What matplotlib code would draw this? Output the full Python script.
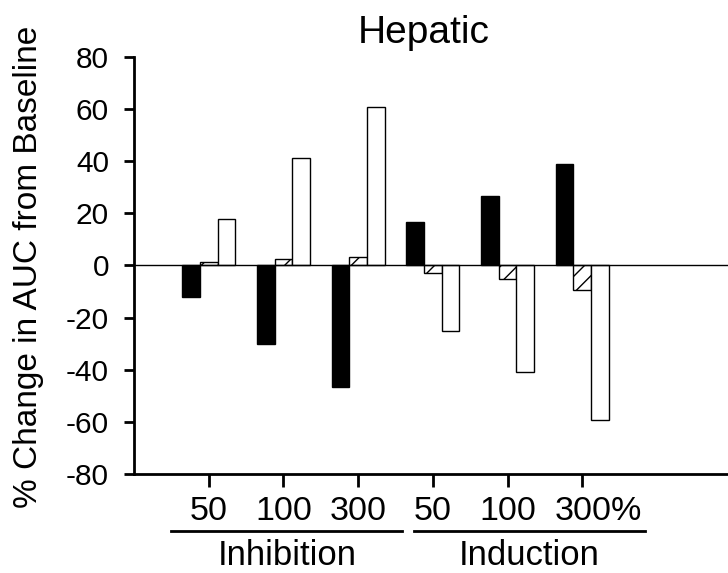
import numpy as np
import matplotlib
matplotlib.use("Agg")
from matplotlib import pyplot as plt
import matplotlib.transforms as mtransforms

plt.rcParams["font.family"] = ["Liberation Sans", "DejaVu Sans"]
plt.rcParams["hatch.linewidth"] = 1.0
plt.rcParams["axes.unicode_minus"] = False

# data
dose_labels = ["50", "100", "300", "50", "100", "300%"]
groups = ["Inhibition", "Induction"]
black_vals = [-12, -30, -46.5, 16.5, 26.5, 38.8]
hatch_vals = [1.4, 2.5, 3.3, -2.7, -5, -9.3]
white_vals = [18, 41.3, 61, -25, -41, -59.3]

x = np.arange(1, len(dose_labels) + 1)
w = 0.237

fig = plt.figure(figsize=(7.28, 5.73), dpi=100)
ax = fig.add_axes([0.184, 0.1728, 0.816, 0.7277])

ax.bar(x - w, black_vals, w, color="black", edgecolor="black", linewidth=1)
ax.bar(x, hatch_vals, w, color="white", edgecolor="black", linewidth=1, hatch="//")
ax.bar(x + w, white_vals, w, color="white", edgecolor="black", linewidth=1)
ax.axhline(0, color="black", lw=1)

ax.set_xlim(0, 7.95)
ax.set_ylim(-80, 80)
ax.set_yticks(np.arange(-80, 81, 20))
ax.set_xticks(x)
ax.set_xticklabels(dose_labels)

for s in ["top", "right"]:
    ax.spines[s].set_visible(False)
for s in ["left", "bottom"]:
    ax.spines[s].set_linewidth(2)

ax.tick_params(axis="y", direction="out", length=7, width=2, pad=11, labelsize=21.5)
ax.tick_params(axis="x", direction="out", length=9, width=2, pad=7, labelsize=24.5)

# shift "300%" so that "300" sits on its tick
last = ax.get_xticklabels()[-1]
last.set_transform(last.get_transform() + mtransforms.ScaledTranslation(0.16, 0, fig.dpi_scale_trans))

ax.set_ylabel("% Change in AUC from Baseline", fontsize=24)
ax.yaxis.set_label_coords(-0.152, 0.496)

ax.text(0.487, 1.034, "Hepatic", transform=ax.transAxes, ha="center", va="baseline", fontsize=28)

# group underlines and names
trans = mtransforms.blended_transform_factory(ax.transData, ax.transAxes)
spans = [(0.5, 3.59), (3.75, 6.84)]
for (x0, x1), name in zip(spans, groups):
    ax.plot([x0, x1], [-0.137, -0.137], color="black", lw=2, transform=trans, clip_on=False)
    ax.text((x0 + x1) / 2, -0.218, name, transform=trans, ha="center", va="baseline", fontsize=25)

fig.savefig("out.png", dpi=100)
